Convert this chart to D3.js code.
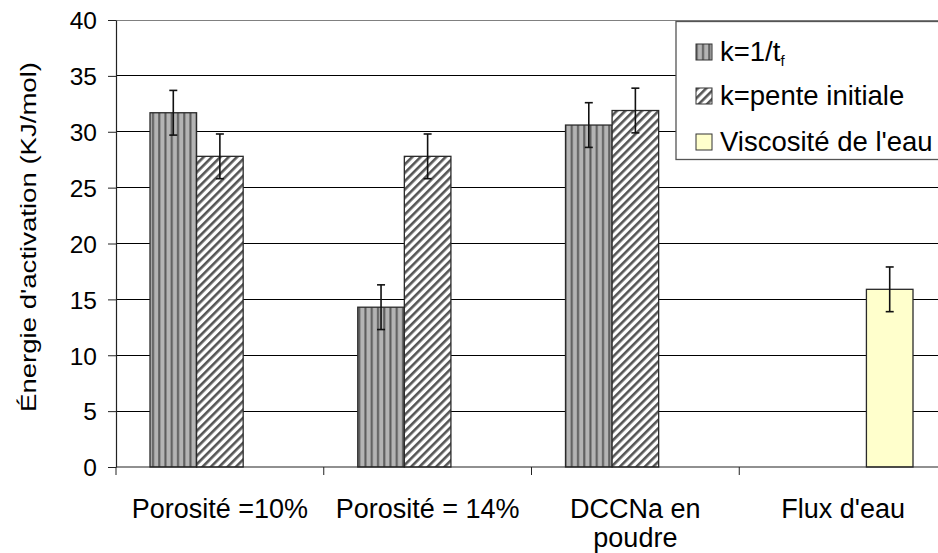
<!DOCTYPE html>
<html><head><meta charset="utf-8">
<script src="https://cdn.jsdelivr.net/npm/d3@7"></script>
<style>body{margin:0;background:#fff}svg{display:block;font-family:Arial,"Liberation Sans",sans-serif}</style>
</head><body><svg id="c" width="938" height="553"></svg>
<script>
const categories = ["Porosité =10%", "Porosité = 14%", "DCCNa en|poudre", "Flux d'eau"];
const seriesNames = ["k=1/tf", "k=pente initiale", "Viscosité de l'eau"];
const kInverse = [31.7, 14.3, 30.6, null];
const kPente = [27.8, 27.8, 31.9, null];
const viscosite = [null, null, null, 15.9];
const errKInverse = [2, 2, 2, null];
const errKPente = [2, 2, 2, null];
const errViscosite = [null, null, null, 2];
const yTicks = [0, 5, 10, 15, 20, 25, 30, 35, 40];
const yTitle = "Énergie d'activation (KJ/mol)";

(function () {
const svg = d3.select("#c");
const mL = 116, mR = 947, mT = 20, mB = 467;
const y = d3.scaleLinear().domain([0, 40]).range([mB, mT]);
const x0 = d3.scaleBand().domain(categories).range([mL, mR]).padding(0);
const bw = x0.bandwidth();
const x1 = d3.scaleBand().domain([0, 1, 2]).range([34, bw - 34]).padding(0);

const defs = svg.append("defs");
const p1 = defs.append("pattern").attr("id", "vstripe").attr("patternUnits", "userSpaceOnUse")
  .attr("width", 6.25).attr("height", 10);
p1.append("rect").attr("width", 6.25).attr("height", 10).attr("fill", "#b4b4b4");
p1.append("rect").attr("x", 2).attr("width", 2).attr("height", 10).attr("fill", "#5a5a5a");
const p2 = defs.append("pattern").attr("id", "dstripe").attr("patternUnits", "userSpaceOnUse")
  .attr("width", 5.9).attr("height", 10).attr("patternTransform", "rotate(45)");
p2.append("rect").attr("width", 5.9).attr("height", 10).attr("fill", "#fff");
p2.append("rect").attr("x", 0).attr("width", 2.6).attr("height", 10).attr("fill", "#555");

const fills = ["url(#vstripe)", "url(#dstripe)", "#ffffcc"];
const data = [kInverse, kPente, viscosite];
const errs = [errKInverse, errKPente, errViscosite];

svg.append("g").selectAll("line").data(yTicks.filter(d => d > 0)).join("line")
  .attr("x1", mL).attr("x2", mR).attr("y1", d => y(d)).attr("y2", d => y(d))
  .attr("stroke", d => d === 40 ? "#808080" : "#000").attr("stroke-width", 1).attr("shape-rendering", "crispEdges");

data.forEach((vals, si) => {
  const g = svg.append("g");
  categories.forEach((c, ci) => {
    const v = vals[ci];
    if (v == null) return;
    const bx = x0(c) + x1(si);
    g.append("rect").attr("x", bx).attr("y", y(v)).attr("width", x1.bandwidth()).attr("height", y(0) - y(v))
      .attr("fill", fills[si]).attr("stroke", "#2a2a2a").attr("stroke-width", 1.3);
  });
});
data.forEach((vals, si) => {
  const g = svg.append("g").attr("stroke", "#111").attr("stroke-width", 1.6);
  categories.forEach((c, ci) => {
    const v = vals[ci], e = errs[si][ci];
    if (v == null || e == null) return;
    const cx = x0(c) + x1(si) + x1.bandwidth() / 2;
    g.append("line").attr("x1", cx).attr("x2", cx).attr("y1", y(v + e)).attr("y2", y(v - e));
    g.append("line").attr("x1", cx - 4).attr("x2", cx + 4).attr("y1", y(v + e)).attr("y2", y(v + e));
    g.append("line").attr("x1", cx - 4).attr("x2", cx + 4).attr("y1", y(v - e)).attr("y2", y(v - e));
  });
});

const yAxis = d3.axisLeft(y).tickValues(yTicks).tickSize(8).tickPadding(11).tickSizeOuter(0);
const ya = svg.append("g").attr("transform", `translate(${mL},0)`).call(yAxis);
ya.select(".domain").attr("stroke", "#222").attr("stroke-width", 1.2);
ya.selectAll(".tick line").attr("stroke", "#222");
ya.selectAll(".tick text").attr("font-size", 24.5).attr("fill", "#000").attr("font-family", "Arial, 'Liberation Sans', sans-serif").attr("dy", "0.36em");

const xa = svg.append("g").attr("transform", `translate(0,${mB})`);
xa.append("line").attr("x1", mL).attr("x2", mR).attr("stroke", "#222").attr("stroke-width", 1.2);
xa.selectAll(".t").data(categories.concat(["__end"])).join("line")
  .attr("x1", (d, i) => i < categories.length ? x0(d) : x0.range()[1])
  .attr("x2", (d, i) => i < categories.length ? x0(d) : x0.range()[1])
  .attr("y1", 0).attr("y2", 8).attr("stroke", "#222");
categories.forEach(c => {
  const lines = c.split("|");
  const t = xa.append("text").attr("x", x0(c) + bw / 2).attr("y", 51).attr("text-anchor", "middle")
    .attr("font-size", 27).attr("fill", "#000");
  lines.forEach((l, i) => t.append("tspan").attr("x", x0(c) + bw / 2).attr("dy", i === 0 ? 0 : 29).text(l));
});

svg.append("text").attr("transform", `translate(36,${(62 + 412) / 2}) rotate(-90)`)
  .attr("text-anchor", "middle").attr("font-size", 22).attr("fill", "#000")
  .attr("textLength", 350).attr("lengthAdjust", "spacingAndGlyphs").text(yTitle);

const lg = svg.append("g");
lg.append("rect").attr("x", 676).attr("y", 21.5).attr("width", 300).attr("height", 138)
  .attr("fill", "#fff").attr("stroke", "#555").attr("stroke-width", 1.3);
const rowY = [52, 96, 142];
seriesNames.forEach((n, i) => {
  lg.append("rect").attr("x", 696).attr("y", rowY[i] - 8).attr("width", 16).attr("height", 16)
    .attr("fill", fills[i]).attr("stroke", "#333").attr("stroke-width", 1);
  const t = lg.append("text").attr("x", 720).attr("y", rowY[i] + 9).attr("font-size", 27.5).attr("fill", "#000");
  if (i === 0) {
    t.append("tspan").text("k=1/t");
    t.append("tspan").attr("font-size", 15).attr("dy", 5).text("f");
  } else t.text(n);
});
})();
</script></body></html>
